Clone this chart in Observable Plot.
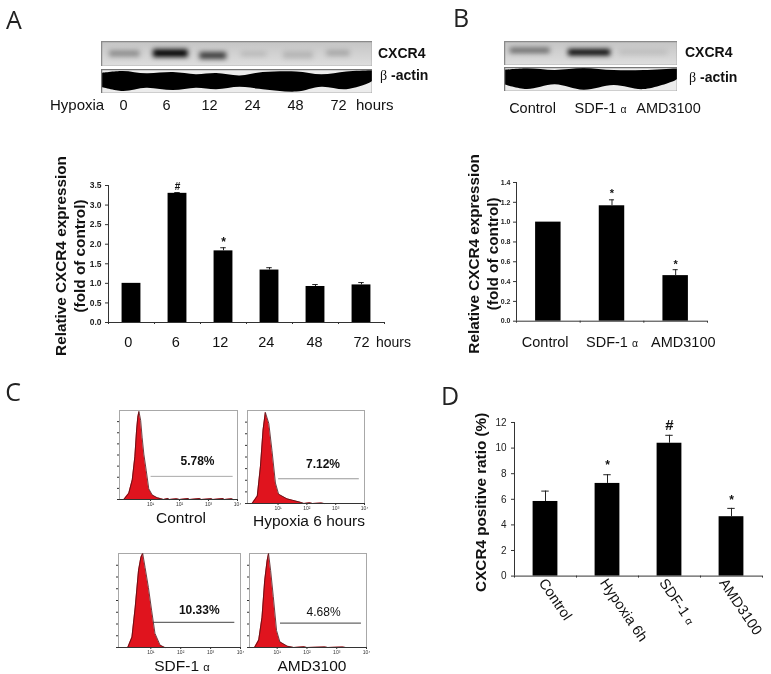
<!DOCTYPE html>
<html><head><meta charset="utf-8">
<script src="https://cdn.jsdelivr.net/npm/d3@7"></script>
<script src="https://cdn.jsdelivr.net/npm/@observablehq/plot@0.6"></script>
<style>
html,body{margin:0;padding:0;background:#fff}
#root{position:relative;width:771px;height:674px;overflow:hidden;font-family:"Liberation Sans",Arial,sans-serif;color:#111;filter:blur(.35px)}
#root svg{position:absolute}
.lb{position:absolute;white-space:nowrap;line-height:1.2}
</style></head><body><div id="root"></div>
<script>
// ---------- Panel A bars
const aCats=["0","6","12","24","48","72"];
const aVals=[1.0,3.30,1.83,1.34,0.92,0.96];
const aErrTop=[1.0,3.32,1.91,1.40,0.97,1.02];
const aSig=["","#","*","","",""];
const aSigAt=[0,3.47,2.06,0,0,0];
const aTicks=[0,0.5,1,1.5,2,2.5,3,3.5];
// ---------- Panel B bars
const bCats=["Control","SDF-1 α","AMD3100"];
const bVals=[1.0,1.165,0.46];
const bErrTop=[1.0,1.225,0.52];
const bSig=["","*",  "*"];
const bSigAt=[0,1.29,0.57];
const bTicks=[0,0.2,0.4,0.6,0.8,1.0,1.2,1.4];
// ---------- Panel D bars
const dCats=["Control","Hypoxia 6h","SDF-1 α","AMD3100"];
const dVals=[5.83,7.24,10.38,4.64];
const dErrTop=[6.64,7.92,11.0,5.29];
const dSig=["","*","#","*"];
const dSigAt=[0,8.65,11.8,5.95];
const dTicks=[0,2,4,6,8,10,12];
// ---------- Blot A
const aBandX1=[.18,1.15,2.18,3.10,4.03,4.99], aBandX2=[.85,1.92,2.77,3.66,4.69,5.50];
const aBandY1=[.38,.33,.44,.44,.42,.36], aBandY2=[.62,.64,.72,.60,.70,.60];
const aBandDark=[.34,1,.72,.14,.14,.2];
const aActinX=[0,.48,1,1.59,2.1,2.55,3.07,3.58,4.32,4.88,5.43,5.95,6];
const aActinTop=[.16,.08,.18,.13,.22,.17,.27,.13,.10,.22,.10,.05,.05];
const aActinBot=[.74,.92,.78,.88,.78,.84,.74,.84,.94,.74,.84,.56,.5];
// ---------- Blot B
const bBandX1=[.1,1.11,2.0], bBandX2=[.79,1.84,2.83];
const bBandY1=[.28,.34,.38], bBandY2=[.5,.6,.56];
const bBandDark=[.5,1,.1];
const bActinX=[0,.39,.88,1.38,1.9,2.42,2.97,3];
const bActinTop=[.12,.05,.12,.04,.13,.13,.06,.06];
const bActinBot=[.72,.92,.72,.95,.75,.92,.55,.5];
// ---------- Flow histograms (log10 decade, relative count)
const c1D=[.08,.25,.37,.46,.52,.56,.6,.66,.71,.77,.85,.94,1.06,1.23,1.34,1.45,1.6,1.65,1.9,2.0,2.3,2.35,2.7,2.75,3.1,3.15,3.5,3.55,3.8,3.85];
const c1C=[0,7,22,48,78,92,99,89,70,51,33,12,5,2,1,0,1.2,0,.8,0,1,0,1,0,.9,0,1,0,.8,0];
const c2D=[.10,.28,.39,.48,.56,.68,.79,.91,1.02,1.31,1.5,1.77,1.9,2.1,2.2,2.5,2.6];
const c2C=[0,8,40,79,98,86,57,22,10,5,3.5,1.4,0,.7,0,.5,0];
const c3D=[.23,.37,.48,.59,.67,.73,.81,.92,1.03,1.14,1.31,1.47];
const c3C=[0,11,43,82,96,100,85,64,39,15,2.5,0];
const c4D=[.24,.38,.49,.58,.66,.71,.78,.87,.98,1.09,1.34,1.56,1.9,2.0,2.6,2.7,3.2,3.3];
const c4C=[0,8,32,71,92,100,82,54,18,6,1.4,0,.7,0,.6,0,.5,0];
const flowTickLabels=["10¹","10²","10³","10⁴"];

const root=document.getElementById("root");
const FONT='"Liberation Sans",Arial,sans-serif';
function smallAlpha(svg){
  svg.querySelectorAll("text").forEach(t=>{
    const host=[...t.querySelectorAll("tspan")].find(s=>s.textContent.includes("α"))||(t.textContent.includes("α")?t:null);
    if(!host)return;
    const base=host.textContent.split("α")[0];
    host.textContent=base;
    const s=document.createElementNS("http://www.w3.org/2000/svg","tspan");
    s.setAttribute("font-size","0.72em");s.setAttribute("font-weight","normal");s.textContent="α";
    host.appendChild(s);
  });
}
function place(svg,left,top){svg.style.left=left+"px";svg.style.top=top+"px";root.appendChild(svg);return svg;}
function label(html,x,y,o={}){
  const d=document.createElement("div");d.className="lb";d.innerHTML=html;
  d.style.left=x+"px";d.style.top=y+"px";d.style.fontSize=(o.size||15)+"px";
  if(o.bold)d.style.fontWeight="bold";
  if(o.font)d.style.fontFamily=o.font;
  if(o.color)d.style.color=o.color;
  d.style.transform=o.start?"translate(0,-50%)":"translate(-50%,-50%)";
  root.appendChild(d);
}

function barPanel(c){
  const n=c.cats.length, idx=d3.range(n), mL=70,mR=c.rotated?9:60,mT=20,mB=c.rotated?90:60;
  const w=c.x2-c.x1,h=c.y0-c.yTop,half=c.bar/2,cap=c.cap;
  const at=c.labelAt||idx.map(i=>i+.5);
  const sigIdx=idx.filter(i=>c.sig[i]);
  const errIdx=idx.filter(i=>c.err[i]>c.vals[i]);
  const marks=[
    Plot.rectY(idx,{x1:i=>i+.5-half,x2:i=>i+.5+half,y1:0,y2:i=>c.vals[i],fill:"#000"}),
    Plot.ruleX(errIdx,{x:i=>i+.5,y1:i=>c.vals[i],y2:i=>c.err[i],stroke:"#222",strokeWidth:1}),
    Plot.ruleY(errIdx,{y:i=>c.err[i],x1:i=>i+.5-cap,x2:i=>i+.5+cap,stroke:"#222",strokeWidth:1}),
    Plot.ruleY([0],{stroke:"#333",strokeWidth:1}),
    Plot.ruleX([0],{stroke:"#333",strokeWidth:1}),
    Plot.axisY({ticks:c.ticks,tickSize:3,tickPadding:c.tickPad||4,tickFormat:c.fmt,fontSize:c.tickFont,fontWeight:c.tickBold?"bold":"normal",label:null,stroke:"#333",fill:"#222"}),
    Plot.axisX({ticks:d3.range(n+1),tickSize:2,tickFormat:()=>"",label:null,stroke:"#333"}),
    Plot.text(sigIdx,{x:i=>i+.5,y:i=>c.sigAt[i],text:i=>c.sig[i],fontWeight:"bold",fontSize:i=>c.sig[i]==="#"?c.hashFont:c.starFont,fill:"#111"}),
    Plot.text([c.title],{frameAnchor:"left",textAnchor:"middle",rotate:-90,dx:c.titleDx,dy:c.titleDy,lineHeight:c.titleLH||1.2,fontSize:15.3,fontWeight:"bold",fill:"#111"})
  ];
  if(c.rotated){
    marks.push(Plot.text(idx,{x:i=>at[i],y:0,dy:c.labDy,text:i=>c.cats[i],rotate:56,textAnchor:"start",fontSize:14.5,fill:"#111"}));
  }else{
    marks.push(Plot.text(idx,{x:i=>at[i],y:0,dy:c.labDy,text:i=>c.cats[i],fontSize:c.labFont||14.5,fill:"#111"}));
  }
  if(c.unit)marks.push(Plot.text([c.unit],{x:n,y:0,dx:c.unitDx,dy:c.labDy,fontSize:14,fill:"#111",textAnchor:"middle"}));
  const svg=Plot.plot({width:w+mL+mR,height:h+mT+mB,marginLeft:mL,marginRight:mR,marginTop:mT,marginBottom:mB,
    style:{background:"transparent",overflow:"visible",fontFamily:FONT},
    x:{type:"linear",domain:[0,n],axis:null},y:{domain:[0,c.yMax],axis:null},marks});
  smallAlpha(svg);
  place(svg,c.x1-mL,c.yTop-mT);
}

function blotBand(x,y,w,h,nLanes,x1,x2,y1,y2,dark){
  const idx=d3.range(x1.length);
  place(Plot.plot({width:w,height:h,margin:0,style:{background:"linear-gradient(#c4c4c4,#dedede)",overflow:"hidden"},
    x:{domain:[0,nLanes],axis:null},y:{domain:[1,0],axis:null},
    marks:[
      Plot.rect(idx,{x1:i=>x1[i],x2:i=>x2[i],y1:i=>y1[i],y2:i=>y2[i],fill:"#000",fillOpacity:i=>dark[i],imageFilter:"blur(2.6px)"}),
      Plot.frame({stroke:"#8a8a8a",strokeWidth:1.5})
    ]}),x,y);
}
function blotActin(x,y,w,h,nLanes,xs,top,bot){
  const idx=d3.range(xs.length);
  place(Plot.plot({width:w,height:h,margin:0,style:{background:"#ececec",overflow:"hidden"},
    x:{domain:[0,nLanes],axis:null},y:{domain:[1,0],axis:null},
    marks:[
      Plot.areaY(idx,{x:i=>xs[i],y1:i=>top[i],y2:i=>bot[i],fill:"#000",curve:"catmull-rom",imageFilter:"blur(.7px)"}),
      Plot.frame({stroke:"#777",strokeWidth:1.5})
    ]}),x,y);
}
function laneLabels(cats,xa,xb,yc){
  const m=40;
  const svg=Plot.plot({width:xb-xa+2*m,height:24,margin:0,marginLeft:m,marginRight:m,
    style:{background:"transparent",overflow:"visible",fontFamily:FONT},
    x:{type:"point",domain:cats,axis:null,padding:0},y:{axis:null},
    marks:[Plot.text(cats,{x:d=>d,frameAnchor:"middle",text:d=>d,fontSize:14.5,fill:"#111"})]});
  smallAlpha(svg);
  place(svg,xa-m,yc-12);
}
function flow(o){
  const idx=d3.range(o.d.length),w=o.x2-o.x1,h=o.y2-o.y1,mB=10,mL=6;
  const svg=Plot.plot({width:w+mL+6,height:h+mB+2,marginLeft:mL,marginRight:6,marginTop:2,marginBottom:mB,
    style:{background:"transparent",overflow:"visible",fontFamily:FONT},
    x:{domain:[o.xmin,4],axis:null},y:{domain:[0,100],axis:null},
    marks:[
      Plot.frame({stroke:"#a8a8a8",strokeWidth:1}),
      Plot.areaY(idx,{x:i=>o.d[i],y:i=>o.c[i],fill:"#e0141e"}),
      Plot.lineY(idx,{x:i=>o.d[i],y:i=>o.c[i],stroke:"#4a1014",strokeWidth:.8}),
      Plot.ruleY([0],{stroke:"#333",strokeWidth:1}),
      Plot.axisY({ticks:[0,12.5,25,37.5,50,62.5,75,87.5],tickSize:2,tickFormat:()=>"",label:null,stroke:"#333"}),
      Plot.axisX({ticks:[1,2,3,4],tickSize:2,tickPadding:1,tickFormat:i=>flowTickLabels[i-1],fontSize:5,label:null,stroke:"#333",fill:"#333"}),
      Plot.ruleY([o.gate],{x1:o.g1,x2:o.g2,stroke:o.gateColor,strokeWidth:o.gateW}),
      Plot.text([o.pct],{x:o.px,y:o.py,fontSize:12,fontWeight:o.pb?"bold":"normal",fill:"#111",text:d=>d})
    ]});
  place(svg,o.x1-mL,o.y1-2);
}

// ---------- Panel letters
const LET='"Open Sans",sans-serif';
label("A",14,19,{size:25,font:LET,color:"#222"});
label("B",461,17,{size:25,font:LET,color:"#222"});
label("C",13,391,{size:25,font:LET,color:"#222"});
label("D",450,395,{size:25,font:LET,color:"#222"});

// ---------- Blots
blotBand(101,41,271,25,6,aBandX1,aBandX2,aBandY1,aBandY2,aBandDark);
blotActin(101,69,271,24,6,aActinX,aActinTop,aActinBot);
blotBand(504,41,173,24,3,bBandX1,bBandX2,bBandY1,bBandY2,bBandDark);
blotActin(504,67,173,24,3,bActinX,bActinTop,bActinBot);
const betaActin='<span style="font-family:\'Liberation Serif\',serif;font-weight:normal">β</span> -actin';
label("CXCR4",378,53,{size:14,bold:true,start:true});
label(betaActin,380,76,{size:14,bold:true,start:true});
label("CXCR4",685,52,{size:14,bold:true,start:true});
label(betaActin,689,78,{size:14,bold:true,start:true});
label("Hypoxia",50,105,{size:15,start:true});
label("hours",356,105,{size:15,start:true});
laneLabels(aCats,122,338,105);
laneLabels(bCats,531,668,108);

// ---------- Bars
barPanel({cats:aCats,vals:aVals,err:aErrTop,sig:aSig,sigAt:aSigAt,ticks:aTicks,fmt:d3.format(".1f"),
  x1:108,x2:384,y0:322,yTop:185,yMax:3.5,bar:.41,cap:.06,tickFont:8.5,tickBold:true,tickPad:4,
  hashFont:10,starFont:12,title:"Relative CXCR4 expression\n(fold of control)",titleDx:-39,titleDy:2,labDy:20,
  labelAt:[.43,1.46,2.43,3.43,4.48,5.5],unit:"hours",unitDx:9,labFont:14.5});
barPanel({cats:bCats,vals:bVals,err:bErrTop,sig:bSig,sigAt:bSigAt,ticks:bTicks,fmt:d3.format(".1f"),
  x1:516,x2:707,y0:321,yTop:182.3,yMax:1.4,bar:.4,cap:.04,tickFont:7,tickBold:true,tickPad:3,
  hashFont:10,starFont:11,title:"Relative CXCR4 expression\n(fold of control)",titleDx:-34,titleDy:2,labDy:21,
  labelAt:[.45,1.5,2.62],labFont:14.5});
barPanel({cats:dCats,vals:dVals,err:dErrTop,sig:dSig,sigAt:dSigAt,ticks:dTicks,fmt:d3.format("d"),
  x1:514,x2:762,y0:575.3,yTop:421.7,yMax:12,bar:.4,cap:.06,tickFont:10,tickBold:false,tickPad:5,
  hashFont:15,starFont:12,title:"CXCR4 positive ratio (%)",titleDx:-34,titleDy:3,rotated:true,labDy:4,
  labelAt:[.447,1.435,2.39,3.355]});

// ---------- Flow
flow({d:c1D,c:c1C,x1:119,x2:237,y1:410,y2:499,xmin:-.07,gate:26,g1:1.02,g2:3.85,gateColor:"#aaa",gateW:1,pct:"5.78%",px:2.62,py:43,pb:true});
flow({d:c2D,c:c2C,x1:247,x2:364,y1:410,y2:503,xmin:-.06,gate:26.6,g1:1.02,g2:3.82,gateColor:"#999",gateW:1,pct:"7.12%",px:2.56,py:42,pb:true});
flow({d:c3D,c:c3C,x1:118,x2:240,y1:553,y2:647,xmin:-.08,gate:26.8,g1:1.09,g2:3.81,gateColor:"#444",gateW:1,pct:"10.33%",px:2.62,py:40,pb:true});
flow({d:c4D,c:c4C,x1:249,x2:366,y1:553,y2:647,xmin:.07,gate:26,g1:1.11,g2:3.83,gateColor:"#666",gateW:1.2,pct:"4.68%",px:2.56,py:38,pb:false});
label("Control",181,518,{size:15.5});
label("Hypoxia 6 hours",309,521,{size:15.5});
label('SDF-1 <span style="font-size:.72em">α</span>',182,666,{size:15.5});
label("AMD3100",312,666,{size:15.5});
</script></body></html>
